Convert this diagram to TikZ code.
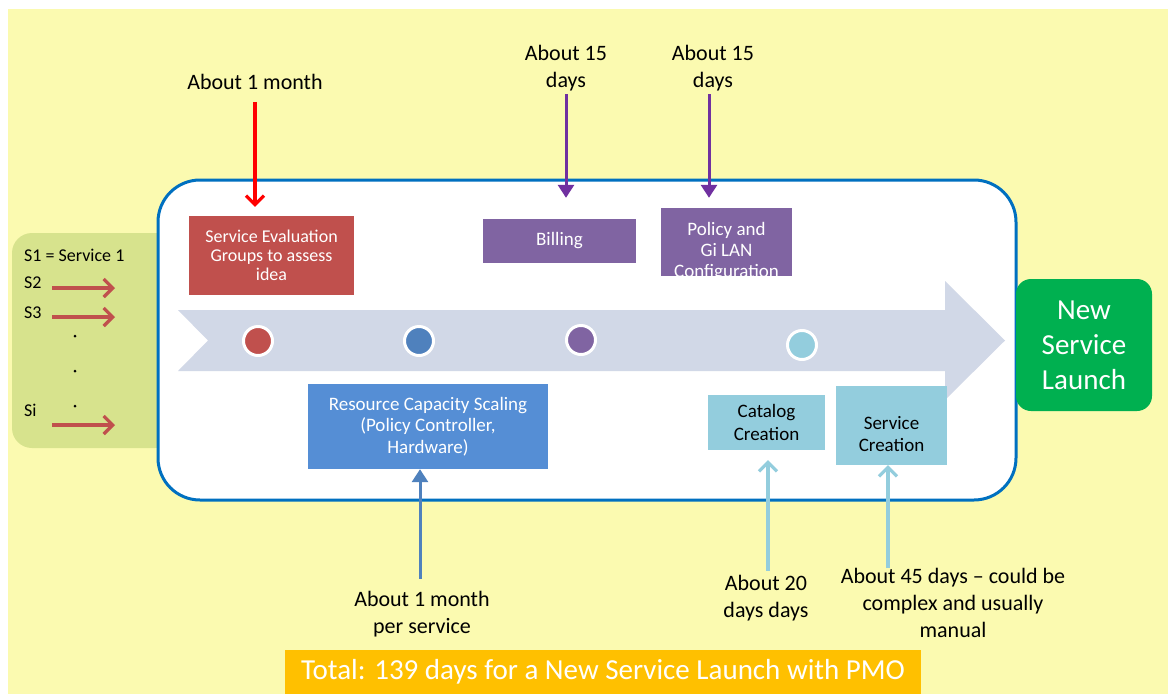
\documentclass[tikz,border=0pt]{standalone}
\usepackage{fontspec}
\setmainfont{Carlito}
\usetikzlibrary{arrows.meta}

\definecolor{paper}{RGB}{251,250,176}
\definecolor{panelgreen}{RGB}{215,227,141}
\definecolor{frameblue}{RGB}{0,112,192}
\definecolor{band}{RGB}{209,216,231}
\definecolor{evalred}{RGB}{192,80,77}
\definecolor{billpurple}{RGB}{128,100,162}
\definecolor{scaleblue}{RGB}{85,142,213}
\definecolor{dotblue}{RGB}{79,129,189}
\definecolor{aqua}{RGB}{147,205,221}
\definecolor{launchgreen}{RGB}{0,176,80}
\definecolor{totalorange}{RGB}{255,192,0}
\definecolor{arrowpurple}{RGB}{112,48,160}
\definecolor{arrowred}{RGB}{255,0,0}

\tikzset{
  lbl/.style={inner sep=0pt, align=center, font=\fontsize{22}{27}\selectfont},
  stagebox/.style={inner sep=0pt, align=center, text=white, font=\fontsize{19}{21.5}\selectfont},
  stagetext/.style={inner sep=0pt, align=center, font=\fontsize{19}{22.5}\selectfont},
  milestone/.style={circle, inner sep=0pt, minimum size=29pt, draw=white, line width=3pt},
  listlbl/.style={inner sep=0pt, anchor=base west, font=\fontsize{18}{21}\selectfont},
  barbarrow/.style={line width=3.2pt, -{Straight Barb[length=9pt,width=18pt]}},
  triarrow/.style={line width=3pt, -{Triangle[length=13pt,width=16pt]}}
}

\begin{document}
\begin{tikzpicture}[x=1pt,y=-1pt]
\useasboundingbox (0,0) rectangle (1168,694);
\fill[white] (0,0) rectangle (1168,694);
\fill[paper] (8,9) rectangle (1168,694);

% list of services entering the process
\fill[panelgreen, rounded corners=20pt] (12,233) rectangle (175,448);
\node[listlbl] (s1) at (24,261) {S1 = Service 1};
\node[listlbl] (s2) at (24,288) {S2};
\node[listlbl] (s3) at (24,318) {S3};
\node[listlbl] (si) at (24,416) {Si};
\coordinate (s2a) at (52,288);  \coordinate (s2b) at (115,288);
\coordinate (s3a) at (52,317);  \coordinate (s3b) at (115,317);
\coordinate (sia) at (52,425);  \coordinate (sib) at (115,425);
\draw[barbarrow, evalred] (s2a) -- (s2b);
\draw[barbarrow, evalred] (s3a) -- (s3b);
\draw[barbarrow, evalred] (sia) -- (sib);
\fill[black] (75,336) circle (1.5pt) (75,371) circle (1.5pt) (75,406) circle (1.5pt);

% process frame
\draw[frameblue, line width=3pt, fill=white, rounded corners=42pt] (158,180) rectangle (1016,500);

% timeline band
\fill[band] (178,310) -- (945,310) -- (945,281) -- (1005,340.5) -- (945,400)
  -- (945,371) -- (178,371) -- (208,340.5) -- cycle;
\node[milestone, fill=evalred]    (m1) at (258,341) {};
\node[milestone, fill=dotblue]    (m2) at (419,341) {};
\node[milestone, fill=billpurple] (m3) at (581,340) {};
\node[milestone, fill=aqua]       (m4) at (802,345) {};

% stages
\node[stagebox, fill=evalred, minimum width=165pt, minimum height=79pt,
  font=\fontsize{18}{19}\selectfont] (eval) at (271.5,255.5)
  {Service Evaluation\\Groups to assess\\idea};
\node[stagebox, fill=billpurple, minimum width=153pt, minimum height=44pt] (bill) at (559.5,241) {Billing};
\begin{scope}
  \clip (661,208) rectangle (792,276);
  \node[stagebox, fill=billpurple, minimum width=131pt, minimum height=68pt] (policy) at (726.5,242) {};
  \node[stagebox, font=\fontsize{19}{21}\selectfont] (policytext) at (726.5,252) {Policy and\\Gi LAN\\Configuration};
\end{scope}
\node[stagebox, fill=scaleblue, minimum width=240pt, minimum height=85pt] (scale) at (428,426.5)
  {Resource Capacity Scaling\\(Policy Controller,\\Hardware)};
\node[stagebox, fill=aqua, text=black, minimum width=117pt, minimum height=55pt,
  font=\fontsize{19}{23}\selectfont] (catalog) at (766.5,422.5) {Catalog\\Creation};
\node[stagebox, fill=aqua, minimum width=111pt, minimum height=79pt] (screate) at (891.5,425.5) {};
\node[stagetext] (screatetext) at (891.5,434) {Service\\Creation};

% launch
\node[inner sep=0pt, rounded corners=15pt, fill=launchgreen, text=white, align=center,
  minimum width=136pt, minimum height=132pt, font=\fontsize{29}{35}\selectfont] (launch) at (1084,345)
  {New\\Service\\Launch};

% durations
\node[lbl] (d1) at (255,82) {About 1 month};
\node[lbl] (d2) at (566,68) {About 15\\days};
\node[lbl] (d3) at (713,68) {About 15\\days};
\node[lbl] (d4) at (422,614) {About 1 month\\per service};
\node[lbl] (d5) at (766,598) {About 20\\days days};
\node[lbl] (d6) at (953,603) {About 45 days – could be\\complex and usually\\manual};

\draw[barbarrow, arrowred, shorten <=12pt, shorten >=9pt] (d1.south) -- (d1.south |- eval.north);
\draw[triarrow, arrowpurple, shorten <=3pt, shorten >=21pt] (d2.south) -- (d2.south |- bill.north);
\draw[triarrow, arrowpurple, shorten <=3pt, shorten >=10pt] ([xshift=-4pt]d3.south) -- ([xshift=-4pt]d3.south |- policy.north);
\draw[triarrow, dotblue, shorten <=12pt] ([xshift=-2pt]d4.north) -- ([xshift=-2pt]d4.north |- scale.south);
\draw[barbarrow, aqua, shorten <=4pt, shorten >=10pt] ([xshift=2pt]d5.north) -- ([xshift=2pt]d5.north |- catalog.south);
\draw[barbarrow, aqua] ([xshift=-65pt]d6.north) -- ([xshift=-65pt]d6.north |- screate.south);

% total
\node[inner sep=0pt, fill=totalorange, text=white, minimum width=636pt, minimum height=44pt,
  font=\fontsize{29}{34}\selectfont] (total) at (603,672)
  {Total: 139 days for a New Service Launch with PMO};
\end{tikzpicture}
\end{document}
